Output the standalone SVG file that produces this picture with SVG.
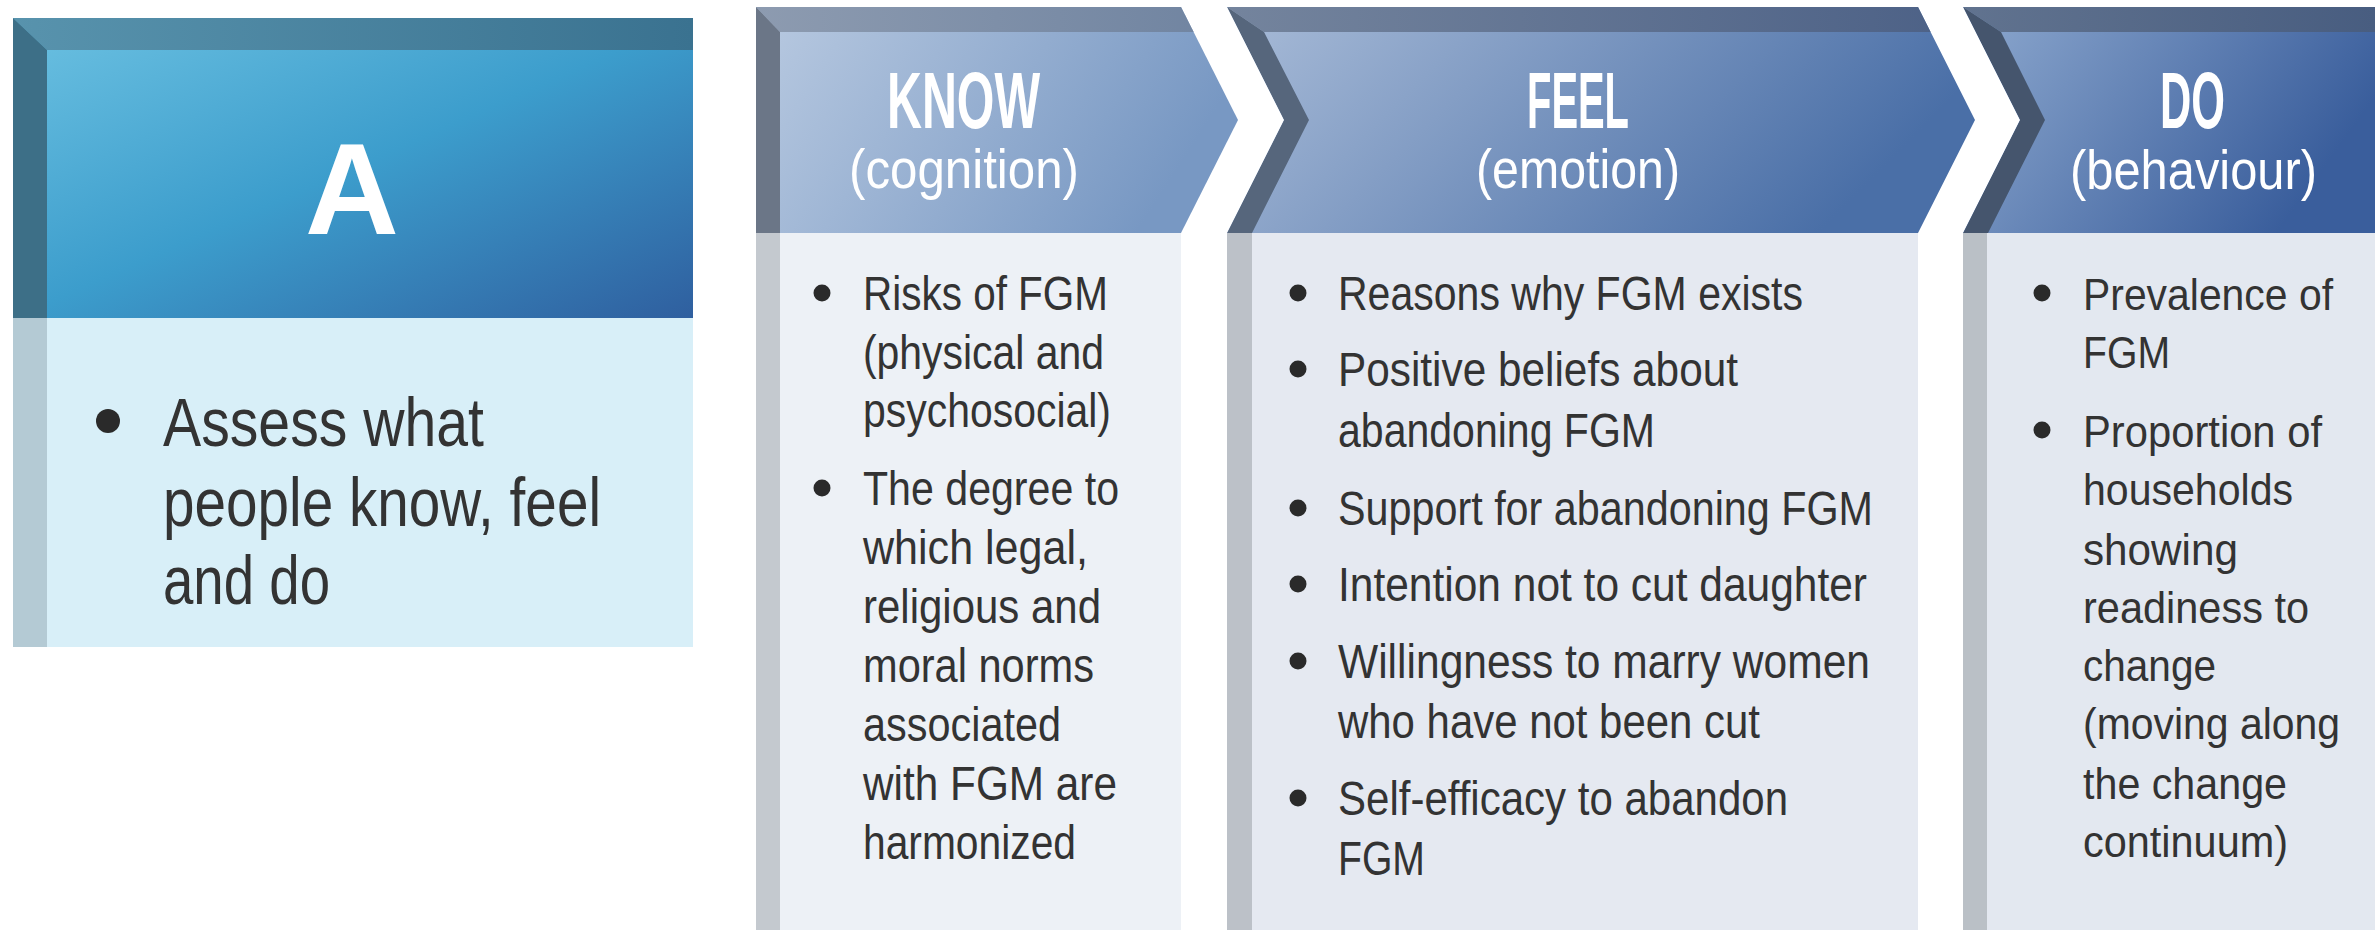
<svg xmlns="http://www.w3.org/2000/svg" width="2375" height="930" viewBox="0 0 2375 930">
  <defs>
    <linearGradient id="gA" x1="0" y1="0" x2="1" y2="1">
      <stop offset="0" stop-color="#6dc2e2"/>
      <stop offset="0.5" stop-color="#3c9dcc"/>
      <stop offset="1" stop-color="#2f5f9f"/>
    </linearGradient>
    <linearGradient id="gAtop" x1="0" y1="0" x2="1" y2="0">
      <stop offset="0" stop-color="#5893ad"/>
      <stop offset="1" stop-color="#3a7290"/>
    </linearGradient>
    <linearGradient id="gKnow" x1="0" y1="0" x2="1" y2="0.3">
      <stop offset="0" stop-color="#b9cae1"/>
      <stop offset="1" stop-color="#7898c3"/>
    </linearGradient>
    <linearGradient id="gKnowTop" x1="0" y1="0" x2="1" y2="0">
      <stop offset="0" stop-color="#8d9bb0"/>
      <stop offset="1" stop-color="#6b809e"/>
    </linearGradient>
    <linearGradient id="gFeel" x1="0" y1="0" x2="1" y2="0.3">
      <stop offset="0" stop-color="#a9bcd8"/>
      <stop offset="1" stop-color="#4a6fa7"/>
    </linearGradient>
    <linearGradient id="gFeelTop" x1="0" y1="0" x2="1" y2="0">
      <stop offset="0" stop-color="#74849d"/>
      <stop offset="1" stop-color="#4a5f85"/>
    </linearGradient>
    <linearGradient id="gDo" x1="0" y1="0" x2="1" y2="0.4">
      <stop offset="0" stop-color="#8ea9cf"/>
      <stop offset="1" stop-color="#3a5e9c"/>
    </linearGradient>
    <linearGradient id="gDoTop" x1="0" y1="0" x2="1" y2="0">
      <stop offset="0" stop-color="#61738f"/>
      <stop offset="1" stop-color="#485d80"/>
    </linearGradient>
    <clipPath id="cKnow"><polygon points="756,7 1181,7 1238,120 1181,233 756,233"/></clipPath>
    <clipPath id="cFeel"><polygon points="1227,7 1918,7 1975,120 1918,233 1227,233 1284,120"/></clipPath>
    <clipPath id="cDo"><polygon points="1963,7 2375,7 2375,233 1963,233 2020,120"/></clipPath>
  </defs>
  <style>
    .body { font-family: "Liberation Sans", Arial, sans-serif; font-size: 49px; fill: #333333; }
    .bodyD { font-family: "Liberation Sans", Arial, sans-serif; font-size: 45px; fill: #333333; }
    .bodyA { font-family: "Liberation Sans", Arial, sans-serif; font-size: 68px; fill: #333333; }
    .head { font-family: "Liberation Sans", Arial, sans-serif; font-size: 80px; font-weight: bold; fill: #ffffff; }
    .sub { font-family: "Liberation Sans", Arial, sans-serif; font-size: 55px; fill: #ffffff; }
    .bigA { font-family: "Liberation Sans", Arial, sans-serif; font-size: 130px; font-weight: bold; fill: #ffffff; }
    .dot { fill: #2a2a2a; }
  </style>
  <rect width="2375" height="930" fill="#ffffff"/>

  <g id="node-a">
    <rect x="13" y="18" width="680" height="300" fill="url(#gA)"/>
    <polygon points="13,18 693,18 693,50 47,50" fill="url(#gAtop)"/>
    <polygon points="13,18 47,50 47,318 13,318" fill="#3d6f87"/>
    <rect x="13" y="318" width="680" height="329" fill="#d8eff8"/>
    <rect x="13" y="318" width="34" height="329" fill="#b4cad4"/>
    <text class="bigA" x="352" y="234" text-anchor="middle">A</text>
    <circle class="dot" cx="108" cy="421" r="12"/>
    <text class="bodyA" x="163" y="446" textLength="321" lengthAdjust="spacingAndGlyphs">Assess what</text>
    <text class="bodyA" x="163" y="526" textLength="438" lengthAdjust="spacingAndGlyphs">people know, feel</text>
    <text class="bodyA" x="163" y="604" textLength="167" lengthAdjust="spacingAndGlyphs">and do</text>
  </g>

  <g id="node-know">
    <polygon points="756,7 1181,7 1238,120 1181,233 756,233" fill="url(#gKnow)"/>
    <g clip-path="url(#cKnow)">
      <polygon points="756,7 1300,7 1300,32 780,32" fill="url(#gKnowTop)"/>
      <polygon points="756,7 780,32 780,233 756,233" fill="#6b7687"/>
    </g>
    <rect x="756" y="233" width="425" height="697" fill="#edf1f6"/>
    <rect x="756" y="233" width="24" height="697" fill="#c4c9cf"/>
    <text class="head" x="887" y="128" textLength="153" lengthAdjust="spacingAndGlyphs">KNOW</text>
    <text class="sub" x="849" y="188" textLength="230" lengthAdjust="spacingAndGlyphs">(cognition)</text>
    <circle class="dot" cx="822" cy="293" r="8.5"/>
    <circle class="dot" cx="822" cy="488" r="8.5"/>
    <text class="body" x="863" y="310" textLength="245" lengthAdjust="spacingAndGlyphs">Risks of FGM</text>
    <text class="body" x="863" y="369" textLength="241" lengthAdjust="spacingAndGlyphs">(physical and</text>
    <text class="body" x="863" y="427" textLength="248" lengthAdjust="spacingAndGlyphs">psychosocial)</text>
    <text class="body" x="863" y="505" textLength="256" lengthAdjust="spacingAndGlyphs">The degree to</text>
    <text class="body" x="863" y="564" textLength="225" lengthAdjust="spacingAndGlyphs">which legal,</text>
    <text class="body" x="863" y="623" textLength="238" lengthAdjust="spacingAndGlyphs">religious and</text>
    <text class="body" x="863" y="682" textLength="231" lengthAdjust="spacingAndGlyphs">moral norms</text>
    <text class="body" x="863" y="741" textLength="198" lengthAdjust="spacingAndGlyphs">associated</text>
    <text class="body" x="863" y="800" textLength="254" lengthAdjust="spacingAndGlyphs">with FGM are</text>
    <text class="body" x="863" y="859" textLength="213" lengthAdjust="spacingAndGlyphs">harmonized</text>
  </g>

  <g id="node-feel">
    <polygon points="1227,7 1918,7 1975,120 1918,233 1227,233 1284,120" fill="url(#gFeel)"/>
    <g clip-path="url(#cFeel)">
      <polygon points="1227,7 2000,7 2000,32 1264,32" fill="url(#gFeelTop)"/>
      <polygon points="1227,7 1284,120 1227,233 1252,233 1309,120 1264,32" fill="#56667c"/>
    </g>
    <rect x="1227" y="233" width="691" height="697" fill="#e5e9f1"/>
    <rect x="1227" y="233" width="25" height="697" fill="#bcc1c8"/>
    <text class="head" x="1527" y="128" textLength="102" lengthAdjust="spacingAndGlyphs">FEEL</text>
    <text class="sub" x="1476" y="188" textLength="204" lengthAdjust="spacingAndGlyphs">(emotion)</text>
    <circle class="dot" cx="1298" cy="293" r="8.5"/>
    <circle class="dot" cx="1298" cy="369" r="8.5"/>
    <circle class="dot" cx="1298" cy="508" r="8.5"/>
    <circle class="dot" cx="1298" cy="584" r="8.5"/>
    <circle class="dot" cx="1298" cy="661" r="8.5"/>
    <circle class="dot" cx="1298" cy="798" r="8.5"/>
    <text class="body" x="1338" y="310" textLength="465" lengthAdjust="spacingAndGlyphs">Reasons why FGM exists</text>
    <text class="body" x="1338" y="386" textLength="400" lengthAdjust="spacingAndGlyphs">Positive beliefs about</text>
    <text class="body" x="1338" y="447" textLength="317" lengthAdjust="spacingAndGlyphs">abandoning FGM</text>
    <text class="body" x="1338" y="525" textLength="535" lengthAdjust="spacingAndGlyphs">Support for abandoning FGM</text>
    <text class="body" x="1338" y="601" textLength="529" lengthAdjust="spacingAndGlyphs">Intention not to cut daughter</text>
    <text class="body" x="1338" y="678" textLength="532" lengthAdjust="spacingAndGlyphs">Willingness to marry women</text>
    <text class="body" x="1338" y="738" textLength="422" lengthAdjust="spacingAndGlyphs">who have not been cut</text>
    <text class="body" x="1338" y="815" textLength="450" lengthAdjust="spacingAndGlyphs">Self-efficacy to abandon</text>
    <text class="body" x="1338" y="875" textLength="87" lengthAdjust="spacingAndGlyphs">FGM</text>
  </g>

  <g id="node-do">
    <polygon points="1963,7 2375,7 2375,233 1963,233 2020,120" fill="url(#gDo)"/>
    <g clip-path="url(#cDo)">
      <polygon points="1963,7 2375,7 2375,32 2001,32" fill="url(#gDoTop)"/>
      <polygon points="1963,7 2020,120 1963,233 1988,233 2045,120 2001,32" fill="#45556d"/>
    </g>
    <rect x="1963" y="233" width="412" height="697" fill="#e3e8f0"/>
    <rect x="1963" y="233" width="24" height="697" fill="#bac0c6"/>
    <text class="head" x="2160" y="128" textLength="65" lengthAdjust="spacingAndGlyphs">DO</text>
    <text class="sub" x="2070" y="189" textLength="247" lengthAdjust="spacingAndGlyphs">(behaviour)</text>
    <circle class="dot" cx="2042" cy="293" r="8.5"/>
    <circle class="dot" cx="2042" cy="430" r="8.5"/>
    <text class="bodyD" x="2083" y="310" textLength="250" lengthAdjust="spacingAndGlyphs">Prevalence of</text>
    <text class="bodyD" x="2083" y="368" textLength="87" lengthAdjust="spacingAndGlyphs">FGM</text>
    <text class="bodyD" x="2083" y="447" textLength="239" lengthAdjust="spacingAndGlyphs">Proportion of</text>
    <text class="bodyD" x="2083" y="505" textLength="210" lengthAdjust="spacingAndGlyphs">households</text>
    <text class="bodyD" x="2083" y="565" textLength="155" lengthAdjust="spacingAndGlyphs">showing</text>
    <text class="bodyD" x="2083" y="623" textLength="226" lengthAdjust="spacingAndGlyphs">readiness to</text>
    <text class="bodyD" x="2083" y="681" textLength="133" lengthAdjust="spacingAndGlyphs">change</text>
    <text class="bodyD" x="2083" y="739" textLength="257" lengthAdjust="spacingAndGlyphs">(moving along</text>
    <text class="bodyD" x="2083" y="799" textLength="204" lengthAdjust="spacingAndGlyphs">the change</text>
    <text class="bodyD" x="2083" y="857" textLength="205" lengthAdjust="spacingAndGlyphs">continuum)</text>
  </g>

  <g id="connectors"/>
</svg>
